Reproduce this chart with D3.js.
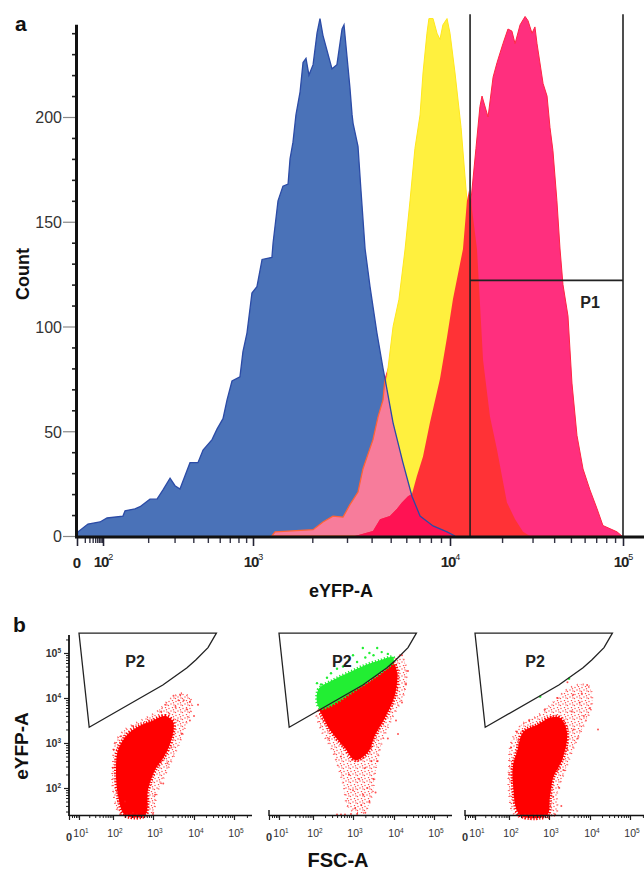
<!DOCTYPE html>
<html>
<head>
<meta charset="utf-8">
<script src="https://d3js.org/d3.v7.min.js"></script>
<style>
  body { margin: 0; background: #fff; }
  svg { display: block; font-family: Arial, "Liberation Sans", sans-serif; }
</style>
</head>
<body>
<div id="chart"></div>
<script>
// ---- panel a: histograms, [log10(eYFP-A), count] ----
const blueHist = [[1.0,0],[1.04,2],[1.42,5.7],[1.885,6.7],[2.027,8.6],[2.133,9.5],[2.147,12],[2.213,13],[2.247,14],[2.313,17.6],[2.36,17.6],[2.40,22],[2.447,27.6],[2.48,24],[2.513,22.4],[2.58,35],[2.633,35],[2.667,41],[2.727,46],[2.76,51],[2.80,56],[2.827,65],[2.86,74],[2.913,76],[2.933,88],[2.96,97],[2.993,116],[3.02,119],[3.046,132],[3.096,133],[3.102,140],[3.127,160],[3.152,167],[3.178,168],[3.188,180],[3.203,188],[3.218,201],[3.239,212],[3.254,226],[3.269,228],[3.284,220],[3.305,225],[3.325,240],[3.340,247],[3.355,239],[3.401,223],[3.426,225],[3.452,242],[3.462,244],[3.477,229],[3.492,214],[3.503,201],[3.508,197],[3.533,186],[3.548,165],[3.569,137],[3.594,119],[3.629,97],[3.660,80],[3.680,70],[3.711,54],[3.761,35],[3.807,19],[3.848,9.5],[3.914,4.8],[3.985,2],[4.029,0]];
const yellowHist = [[3.44,0],[3.543,12],[3.619,40],[3.680,76],[3.711,100],[3.741,113],[3.772,137],[3.797,160],[3.822,185],[3.848,201],[3.863,221],[3.883,240],[3.893,247],[3.914,247],[3.934,240],[3.949,237],[3.964,244],[3.985,247],[4.0,240],[4.029,221],[4.064,195],[4.098,160],[4.116,132],[4.162,89],[4.202,46],[4.243,17],[4.289,0]];
const magentaHist = [[3.096,0],[3.112,2],[3.305,3],[3.355,6.7],[3.406,9.5],[3.457,9],[3.492,15],[3.533,21],[3.558,32],[3.609,46],[3.635,57],[3.660,65],[3.670,75],[3.721,90],[3.848,105],[4.0,112],[4.11,118],[4.121,160],[4.150,185],[4.173,205],[4.185,210],[4.220,200],[4.249,219],[4.272,226],[4.306,235],[4.335,242],[4.358,241],[4.376,235],[4.405,244],[4.434,248],[4.451,246],[4.474,240],[4.491,243],[4.503,235],[4.538,216],[4.561,210],[4.578,195],[4.595,184],[4.618,160],[4.636,137],[4.653,120],[4.682,105],[4.705,73],[4.734,48],[4.769,32],[4.809,22],[4.850,13],[4.884,5],[4.965,2],[4.994,0]];
const redHist = [[3.518,0],[3.609,2.4],[3.645,8],[3.695,9.5],[3.731,13],[3.756,16],[3.787,19],[3.807,20],[3.832,28.6],[3.863,38],[3.898,54],[3.949,75],[3.985,95],[4.017,113],[4.075,137],[4.098,160],[4.110,165],[4.121,160],[4.156,137],[4.191,84],[4.231,57],[4.272,41],[4.329,16],[4.376,8],[4.422,2],[4.462,0]];

const countTicks = [0, 50, 100, 150, 200];
const countMinor = [10,20,30,40,60,70,80,90,110,120,130,140,160,170,180,190,210,220,230,240];
const decadesA = [2, 3, 4, 5];
const p1Range = [4.116, 5.0];
const p1Level = 122;
const p1Top = 249;

// ---- panel b: scatter plots, [log10(FSC-A), log10(eYFP-A)] ----
const coreP1 = [[2.925,3.47],[3.29,3.6],[3.49,3.47],[3.46,3.11],[3.29,2.73],[3.05,2.4],[2.875,1.96],[2.8,1.4],[2.3,1.4],[2.125,1.84],[2.075,2.4],[2.125,2.84],[2.35,3.18],[2.625,3.36]];
const haloP1 = [[2.0,2.6],[2.05,3.0],[2.3,3.3],[2.7,3.5],[3.1,3.7],[3.45,4.0],[3.75,4.1],[3.95,3.9],[3.8,3.4],[3.6,2.9],[3.35,2.4],[3.1,1.9],[2.95,1.4],[2.2,1.4],[2.0,1.95]];
const dotsP1 = [[3.66,4.07],[3.9,3.91],[3.5,4.05],[4.1,3.85],[3.82,3.75],[3.6,3.5],[3.7,3.2],[3.9,3.5],[3.45,2.9],[3.35,2.55],[3.25,2.1],[3.05,1.85],[2.85,1.6],[2.0,2.45],[2.02,2.85],[2.2,3.15],[2.5,3.38],[2.9,3.5],[3.2,3.7],[2.3,1.7],[2.5,1.45],[2.6,1.41],[2.8,1.41],[3.0,1.42],[2.45,1.41],[3.15,2.5],[4.0,3.6],[3.3,3.85],[2.2,1.41],[2.35,1.41],[3.75,3.95],[3.55,3.8],[3.4,3.65],[3.62,3.95]];

const coreP2 = [[2.175,3.74],[2.6,3.96],[3.24,4.27],[3.83,4.65],[3.98,4.78],[4.075,4.58],[4.025,4.07],[3.78,3.56],[3.54,3.18],[3.37,2.8],[3.05,2.62],[2.8,2.89],[2.425,3.29],[2.225,3.62]];
const haloP2 = [[2.1,3.7],[2.6,3.93],[3.3,4.28],[3.9,4.72],[4.15,4.95],[4.3,4.7],[4.25,4.1],[3.95,3.55],[3.7,3.0],[3.55,2.4],[3.45,1.8],[3.25,1.45],[2.9,1.55],[2.75,2.1],[2.5,2.8],[2.2,3.3]];
const dotsP2 = [[3.4,1.7],[3.05,1.55],[3.2,1.62],[3.3,1.45],[3.1,1.42],[2.95,1.42],[3.35,2.0],[3.5,2.2],[3.6,2.6],[3.85,3.1],[4.05,3.5],[4.2,3.9],[4.3,4.3],[4.35,4.6],[4.2,4.95],[3.0,1.95],[2.9,2.3],[3.55,1.9],[2.4,3.1],[2.3,3.5],[2.7,2.7],[4.1,3.2],[3.25,1.85],[2.6,1.41],[2.7,1.41],[2.8,1.41],[3.15,2.2],[3.3,2.45],[3.45,2.6]];
const greenP2 = [[2.175,3.77],[2.125,4.18],[2.5,4.4],[2.925,4.58],[3.29,4.73],[3.66,4.84],[3.98,4.91],[3.98,4.79],[3.83,4.67],[3.24,4.29]];
const greenDotsP2 = [[3.24,5.11],[3.59,5.11],[3.7,5.02],[3.0,4.95],[2.9,4.85],[2.6,4.65],[2.35,4.45],[2.1,4.33],[3.85,4.98],[2.2,4.3],[3.4,5.0],[3.1,4.8],[2.75,4.7],[3.5,4.95],[2.45,4.55],[3.3,4.9]];

const coreP3 = [[2.2,2.8],[2.35,3.24],[2.7,3.4],[3.02,3.56],[3.27,3.56],[3.44,3.24],[3.34,2.67],[3.10,2.22],[3.02,1.78],[2.95,1.4],[2.275,1.4],[2.1,2.07],[2.1,2.51]];
const haloP3 = [[2.0,2.5],[2.05,3.0],[2.3,3.4],[2.7,3.6],[3.1,3.9],[3.45,4.2],[3.75,4.3],[3.98,4.25],[4.05,3.85],[3.85,3.4],[3.6,2.9],[3.4,2.4],[3.2,1.9],[3.15,1.4],[2.15,1.4],[2.0,1.9]];
const dotsP3 = [[3.93,4.29],[3.59,4.07],[4.0,3.78],[3.75,3.9],[3.85,3.6],[4.2,3.3],[3.6,3.3],[3.7,3.1],[3.45,2.85],[3.35,2.4],[3.25,2.0],[3.3,1.6],[2.0,2.3],[2.05,2.9],[2.2,3.25],[2.5,3.5],[2.9,3.75],[3.2,4.0],[3.45,4.35],[2.25,1.41],[2.5,1.41],[2.75,1.41],[3.0,1.41],[3.15,1.41],[2.4,1.41],[2.65,1.41],[2.9,1.41],[3.1,1.8],[3.55,3.7],[3.8,4.1]];
const greenDotsP3 = [[2.78,4.03],[3.49,4.43]];

// P2 gate, same in all three plots
const p2Gate = [[1.0,5.44],[4.56,5.44],[4.35,5.12],[4.05,4.85],[3.83,4.67],[3.24,4.29],[1.3,3.35]];
const p2LabelAt = [[2.55,4.69],[2.72,4.69],[2.65,4.69]];
const decadesB = [1, 2, 3, 4, 5];
const decadesBY = [2, 3, 4, 5];

const plots = [
  {core: coreP1, halo: haloP1, dots: dotsP1, green: null, greenDots: []},
  {core: coreP2, halo: haloP2, dots: dotsP2, green: greenP2, greenDots: greenDotsP2},
  {core: coreP3, halo: haloP3, dots: dotsP3, green: null, greenDots: greenDotsP3}
];

const svg = d3.select("#chart").append("svg")
  .attr("width", 644).attr("height", 875);
const defs = svg.append("defs");

// speckle texture for the sparse part of the clouds
const speck = defs.append("pattern").attr("id", "speck")
  .attr("width", 7).attr("height", 7).attr("patternUnits", "userSpaceOnUse");
[[1,1.5],[4.5,0.5],[3,4],[6,5],[0.5,5.5],[5.5,2.8]].forEach(c =>
  speck.append("circle").attr("cx", c[0]).attr("cy", c[1]).attr("r", 0.7).attr("fill", "#ff2020"));

// ================= panel a =================
const xA = d3.scaleLinear().domain([1, 2, 3, 4, 5, 5.121]).range([77, 103, 253, 450, 623, 644]);
const yA = d3.scaleLinear().domain([0, 200]).range([536, 117]);

const area = d3.area().x(d => xA(d[0])).y0(yA(0)).y1(d => yA(d[1]));
const topLine = d3.line().x(d => xA(d[0])).y(d => yA(d[1]));

defs.append("clipPath").attr("id", "blueClip")
  .append("path").attr("d", area(blueHist));

const gA = svg.append("g");
gA.append("path").attr("d", area(magentaHist))
  .attr("fill", "#ff2f7e").attr("stroke", "#ff2443").attr("stroke-width", 1);
gA.append("path").attr("d", area(yellowHist))
  .attr("fill", "#fff03e").attr("stroke", "#ffe81c").attr("stroke-width", 1);
gA.append("path").attr("d", area(blueHist))
  .attr("fill", "#4a72b8");
gA.append("path").attr("d", area(magentaHist)).attr("clip-path", "url(#blueClip)")
  .attr("fill", "#f77c9b").attr("stroke", "#ff6336").attr("stroke-width", 1.3);
gA.append("path").attr("d", area(redHist))
  .attr("fill", "#ff3236");
gA.append("path").attr("d", area(redHist)).attr("clip-path", "url(#blueClip)")
  .attr("fill", "#ff1253");
gA.append("path").attr("d", topLine(blueHist))
  .attr("fill", "none").attr("stroke", "#2b4ba6").attr("stroke-width", 1.3);

// P1 gate
const gateA = svg.append("g").attr("stroke", "#222").attr("stroke-width", 1.6).attr("fill", "none");
gateA.append("line").attr("x1", xA(p1Range[0])).attr("x2", xA(p1Range[0])).attr("y1", yA(p1Top)).attr("y2", yA(0));
gateA.append("line").attr("x1", xA(p1Range[1])).attr("x2", xA(p1Range[1])).attr("y1", yA(p1Top)).attr("y2", yA(0));
gateA.append("line").attr("x1", xA(p1Range[0])).attr("x2", xA(p1Range[1])).attr("y1", yA(p1Level)).attr("y2", yA(p1Level));
svg.append("text").attr("x", xA(4.81)).attr("y", yA(109))
  .attr("text-anchor", "middle").attr("font-size", 16).attr("font-weight", "bold").attr("fill", "#222")
  .text("P1");

// y axis
const yMajor = svg.append("g").attr("transform", "translate(77,0)")
  .call(d3.axisLeft(yA).tickValues(countTicks).tickSize(14).tickPadding(1));
yMajor.select(".domain").remove();
yMajor.selectAll("line").attr("stroke", "#888").attr("stroke-width", 1.2);
yMajor.selectAll("text").attr("font-size", 16).attr("fill", "#333").attr("font-family", "Arial, 'Liberation Sans', sans-serif").attr("dy", "0.36em");
const yMinor = svg.append("g").attr("transform", "translate(77,0)")
  .call(d3.axisLeft(yA).tickValues(countMinor).tickSize(5).tickFormat(""));
yMinor.select(".domain").remove();
yMinor.selectAll("line").attr("stroke", "#222").attr("stroke-width", 1.6);
svg.append("line").attr("x1", 76.5).attr("x2", 76.5).attr("y1", yA(244)).attr("y2", yA(0) + 1.5)
  .attr("stroke", "#111").attr("stroke-width", 3);

// x axis
const minorA = [];
[20,30,40,50,60,70,80,90].forEach(v => minorA.push(Math.log10(v)));
[2,3,4].forEach(n => d3.range(2, 10).forEach(k => minorA.push(n + Math.log10(k))));
const xMinor = svg.append("g").attr("transform", "translate(0,538)")
  .call(d3.axisBottom(xA).tickValues(minorA).tickSize(5).tickFormat(""));
xMinor.select(".domain").remove();
xMinor.selectAll("line").attr("stroke", "#334").attr("stroke-width", 1.4);
const xMajor = svg.append("g").attr("transform", "translate(0,538)")
  .call(d3.axisBottom(xA).tickValues([1].concat(decadesA)).tickSize(8).tickFormat(""));
xMajor.select(".domain").remove();
xMajor.selectAll("line").attr("stroke", "#223").attr("stroke-width", 1.6);
svg.append("line").attr("x1", 75).attr("x2", 644).attr("y1", 537).attr("y2", 537)
  .attr("stroke", "#111").attr("stroke-width", 3);

svg.append("text").attr("x", xA(1)).attr("y", 568).attr("text-anchor", "middle")
  .attr("font-size", 15).attr("font-weight", "bold").attr("fill", "#222").text("0");
decadesA.forEach(n => {
  const t = svg.append("text").attr("x", xA(n)).attr("y", 567).attr("text-anchor", "middle")
    .attr("font-size", 15).attr("font-weight", "bold").attr("fill", "#222").attr("letter-spacing", -1);
  t.append("tspan").text("10");
  t.append("tspan").attr("dy", -7).attr("font-size", 9).attr("font-weight", "normal").text(n);
});

svg.append("text").attr("x", 341).attr("y", 597).attr("text-anchor", "middle")
  .attr("font-size", 18).attr("font-weight", "bold").attr("fill", "#111").text("eYFP-A");
svg.append("text").attr("transform", "translate(29,274) rotate(-90)").attr("text-anchor", "middle")
  .attr("font-size", 18).attr("font-weight", "bold").attr("fill", "#111").text("Count");
svg.append("text").attr("x", 15).attr("y", 31)
  .attr("font-size", 21).attr("font-weight", "bold").attr("fill", "#111").text("a");

// ================= panel b =================
const originsB = [69, 269, 465];
const offsetsB = [0, 10, 44, 84, 125, 165, 183];
const yB = d3.scaleLinear().domain([1.4, 5.4]).range([815, 635]);
const blob = d3.line().curve(d3.curveCatmullRomClosed.alpha(0.5));

svg.append("text").attr("x", 13).attr("y", 632)
  .attr("font-size", 21).attr("font-weight", "bold").attr("fill", "#111").text("b");

plots.forEach((p, i) => {
  const x0 = originsB[i];
  const xB = d3.scaleLinear().domain([0, 1, 2, 3, 4, 5, 5.42]).range(offsetsB.map(o => x0 + o));
  const g = svg.append("g");
  const pts = arr => arr.map(d => [xB(d[0]), yB(d[1])]);

  g.append("path").attr("d", blob(pts(p.halo))).attr("fill", "url(#speck)")
    .attr("stroke", "#ff3030").attr("stroke-width", 2).attr("stroke-dasharray", "1 5").attr("opacity", 0.8);
  g.append("path").attr("d", blob(pts(p.core))).attr("fill", "#ff0000")
    .attr("stroke", "#ff0000").attr("stroke-width", 4).attr("stroke-dasharray", "1.2 1.6");
  g.selectAll("circle.r").data(p.dots).join("circle").attr("class", "r")
    .attr("cx", d => xB(d[0])).attr("cy", d => yB(d[1])).attr("r", 1)
    .attr("fill", "#ff1a1a").attr("opacity", 0.75);
  if (p.green) {
    g.append("path").attr("d", blob(pts(p.green))).attr("fill", "#22ee33")
      .attr("stroke", "#22ee33").attr("stroke-width", 3).attr("stroke-dasharray", "1.2 2");
  }
  g.selectAll("circle.gr").data(p.greenDots).join("circle").attr("class", "gr")
    .attr("cx", d => xB(d[0])).attr("cy", d => yB(d[1])).attr("r", 1.2)
    .attr("fill", "#22ee33");

  // gate P2
  g.append("path").attr("d", d3.line()(pts(p2Gate)) + "Z")
    .attr("fill", "none").attr("stroke", "#222").attr("stroke-width", 1.3);
  g.append("text").attr("x", xB(p2LabelAt[i][0])).attr("y", yB(p2LabelAt[i][1]))
    .attr("text-anchor", "middle").attr("font-size", 16).attr("font-weight", "bold").attr("fill", "#222").text("P2");

  // x axis
  const minorB = [0.3, 0.5, 0.7, 0.85];
  [1,2,3,4,5].forEach(n => d3.range(2, 10).forEach(k => { if (n + Math.log10(k) < 5.42) minorB.push(n + Math.log10(k)); }));
  const axm = g.append("g").attr("transform", "translate(0,815)")
    .call(d3.axisBottom(xB).tickValues(minorB).tickSize(3).tickFormat(""));
  axm.select(".domain").remove();
  axm.selectAll("line").attr("stroke", "#222").attr("stroke-width", 1);
  const axM = g.append("g").attr("transform", "translate(0,815)")
    .call(d3.axisBottom(xB).tickValues([0].concat(decadesB)).tickSize(5).tickFormat(""));
  axM.select(".domain").remove();
  axM.selectAll("line").attr("stroke", "#222").attr("stroke-width", 1.2);
  g.append("line").attr("x1", x0).attr("x2", x0 + 183).attr("y1", 815.5).attr("y2", 815.5)
    .attr("stroke", "#111").attr("stroke-width", 1.6);
  if (i > 0) {
    g.append("line").attr("x1", x0).attr("x2", x0).attr("y1", 810).attr("y2", 816)
      .attr("stroke", "#111").attr("stroke-width", 1.4);
  }
  g.append("text").attr("x", xB(0)).attr("y", 841).attr("text-anchor", "middle")
    .attr("font-size", 11).attr("font-weight", "bold").attr("fill", "#333").text("0");
  decadesB.forEach(n => {
    const t = g.append("text").attr("x", xB(n) + 2).attr("y", 837).attr("text-anchor", "middle")
      .attr("font-size", 10.5).attr("fill", "#333");
    t.append("tspan").text("10");
    t.append("tspan").attr("dy", -4).attr("font-size", 6.5).text(n);
  });

  // y axis only on the first plot
  if (i === 0) {
    const minorY = [];
    [1,2,3,4,5].forEach(n => d3.range(2, 10).forEach(k => { const v = n + Math.log10(k); if (v > 1.4 && v < 5.4) minorY.push(v); }));
    const aym = g.append("g").attr("transform", `translate(${x0},0)`)
      .call(d3.axisLeft(yB).tickValues(minorY).tickSize(3).tickFormat(""));
    aym.select(".domain").remove();
    aym.selectAll("line").attr("stroke", "#222").attr("stroke-width", 1);
    const ayM = g.append("g").attr("transform", `translate(${x0},0)`)
      .call(d3.axisLeft(yB).tickValues(decadesBY).tickSize(5).tickFormat(""));
    ayM.select(".domain").remove();
    ayM.selectAll("line").attr("stroke", "#222").attr("stroke-width", 1.2);
    g.append("line").attr("x1", x0).attr("x2", x0).attr("y1", 635).attr("y2", 816)
      .attr("stroke", "#111").attr("stroke-width", 1.8);
    decadesBY.forEach(n => {
      const t = g.append("text").attr("x", x0 - 8).attr("y", yB(n) + 4).attr("text-anchor", "end")
        .attr("font-size", 10.5).attr("font-weight", "bold").attr("fill", "#333");
      t.append("tspan").text("10");
      t.append("tspan").attr("dy", -4).attr("font-size", 6.5).text(n);
    });
  }
});

svg.append("text").attr("transform", "translate(28,746) rotate(-90)").attr("text-anchor", "middle")
  .attr("font-size", 19).attr("font-weight", "bold").attr("fill", "#111").text("eYFP-A");
svg.append("text").attr("x", 338).attr("y", 867).attr("text-anchor", "middle")
  .attr("font-size", 20).attr("font-weight", "bold").attr("fill", "#111").text("FSC-A");
</script>
</body>
</html>
